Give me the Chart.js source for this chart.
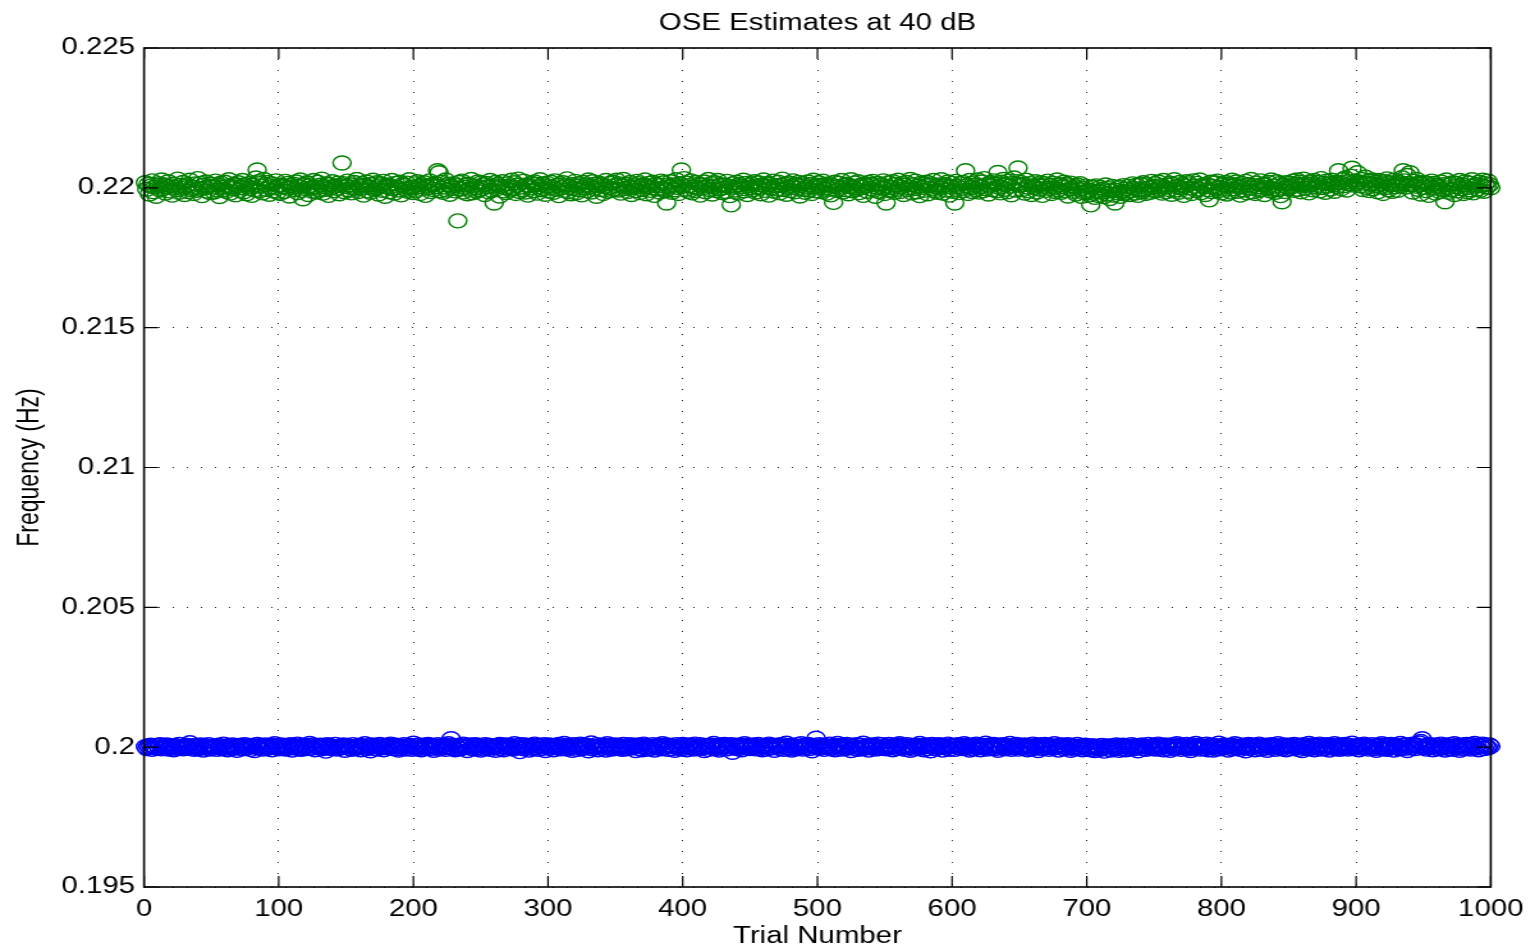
<!DOCTYPE html>
<html>
<head>
<meta charset="utf-8">
<title>OSE Estimates at 40 dB</title>
<script src="https://cdn.jsdelivr.net/npm/chart.js@4"></script>
<style>
  html, body { margin: 0; padding: 0; background: #fff; overflow: hidden; }
  #chart { display: block; }
</style>
</head>
<body>
<!-- drawn narrower and stretched sideways, like the source figure -->
<canvas id="chart" width="1200" height="949" style="width:1535px;height:949px"></canvas>
<script>
// ── data ─────────────────────────────────────────────────────────────────
// Offsets from the nominal frequency, in units of 1e-5 Hz, one per trial.
const DEV_UNIT   = 1e-5;
const GREEN_BASE = 0.22;
const BLUE_BASE  = 0.2;

const GREEN_DEV = [
  18,-5,12,-22,6,25,-14,3,-30,9, 15,-8,28,-3,10,-19,4,22,-11,7, -26,13,1,-7,31,-16,8,-2,19,-24, 5,11,-13,27,-6,2,-20,14,-9,33, -4,16,-28,9,0,21,-12,6,-17,12,
  3,-15,24,-8,10,-31,17,2,-6,20, -12,7,29,-19,4,-3,13,-25,8,18, -9,1,26,-14,11,-21,5,15,-2,-27, 9,-7,35,64,22,-10,6,-18,30,12, -5,19,-23,3,14,-11,0,25,-16,7,
  -20,10,4,-13,23,-1,16,-29,8,2, 13,-6,21,-17,5,28,-9,-39,11,-3, 18,-24,7,0,-12,26,3,-15,20,-8, 9,31,-19,4,-5,14,-27,12,1,22, -10,6,-2,17,-21,8,89,15,-14,5,
  24,-7,11,-18,2,19,-4,30,-13,6, -1,15,-26,9,21,-11,3,-16,12,27, -6,0,18,-22,7,14,-9,23,-30,4, 10,-14,5,26,-3,-19,16,1,-8,20, -25,12,8,-5,17,-12,29,-1,3,-17,
  14,-9,22,5,-20,11,-3,18,-27,7, 1,25,-13,9,-6,16,4,61,54,-10, 20,-16,3,28,-8,12,-23,6,-1,15, -11,8,-118,19,-4,24,-15,2,10,-21, 13,-5,30,-18,7,0,-12,21,-7,17,
  -2,11,-24,16,4,-14,26,-9,8,-54, 19,-3,12,-29,6,22,-11,1,-17,14, 5,-8,27,-1,18,-20,9,31,-13,3, -6,24,-15,10,-26,7,0,16,-10,21, 12,-19,4,29,-7,13,-2,-23,17,6,
  -12,20,2,-16,25,-5,9,-28,14,0, 18,-9,7,32,-14,3,-21,11,-3,23, -18,6,15,-7,-25,19,1,10,-11,28, 4,-15,22,-2,13,-30,8,17,-6,11, -20,5,26,-12,0,16,-9,21,-4,9,
  27,-8,14,-19,6,30,-3,12,-13,2, 19,-24,8,1,-10,23,15,-17,5,-6, 11,28,-21,4,16,-9,0,20,-27,13, -4,7,-15,24,-1,18,-11,-54,9,3, 22,-16,10,-7,29,2,-20,14,64,6,
  33,-5,17,-12,8,25,-18,4,-9,19, -2,13,-26,10,1,21,-14,7,30,-6, 15,-22,3,18,-10,26,-4,11,-17,0, 9,-13,23,6,-28,-61,14,2,-8,20, -19,12,5,-3,27,-11,16,-24,8,1,
  14,-7,22,-15,3,18,-1,-21,10,28, -9,5,16,-26,12,0,24,-12,7,-4, 20,-18,9,31,-6,13,-23,2,17,-10, 6,25,-14,11,-2,19,-29,8,15,-5, -16,3,21,-8,12,-20,27,4,-11,9,
  18,-13,6,24,-4,11,-19,1,15,-25, 8,-52,20,-9,3,16,-2,26,-15,10, -7,13,-21,5,29,-11,0,17,-6,22, -17,9,2,-27,14,7,-12,19,-3,12, 23,-8,-30,4,16,-14,10,-1,25,-20,
  -54,6,18,-10,1,22,-16,12,-5,27, -13,3,15,-24,9,19,-7,0,30,-18, 11,-3,24,-14,6,-28,17,2,-9,13, 20,-21,8,14,-4,26,-11,5,-16,10, -1,29,-19,7,12,-8,21,-26,3,16,
  -12,-54,23,4,-17,14,-2,19,-9,61, 8,-20,26,1,-13,17,10,-6,28,-15, 5,21,-10,33,-3,12,-22,7,18,-7, 25,14,-11,55,2,-18,20,30,-5,11, -14,24,6,-25,16,35,-8,13,71,9,
  19,-6,12,-19,27,3,-11,15,-24,8, 1,22,-15,10,-4,18,-27,6,14,-9, 24,-2,9,-20,16,0,-13,28,-7,11, -16,5,20,-10,13,-29,7,17,-3,-12, 4,-22,10,-6,15,-30,-2,-18,6,-14,
  -8,-25,-61,3,-19,-34,7,-12,-28,1, -15,-6,-31,10,-22,-3,-38,-10,5,-26, -54,-9,-18,2,-30,-13,8,-21,-4,-16, 6,-24,-11,14,-2,-19,9,-27,-7,12, -13,18,-5,-20,11,0,-16,23,-9,4,
  15,-11,21,-3,8,-19,26,2,-14,10, -6,17,-23,12,29,-8,4,-16,19,-1, 11,-27,7,22,-12,14,0,-20,25,6, -9,16,-4,28,-17,9,3,-24,13,-7, -43,20,-13,5,18,-2,24,-10,1,-18,
  12,-5,19,-22,7,14,-15,27,-3,9, 21,-12,2,-26,16,5,-8,23,-18,11, -1,30,-14,8,-20,17,4,-9,25,-6, 13,-24,10,1,19,-11,28,-4,6,-16, 22,-7,15,-28,-50,9,-13,18,3,-2,
  17,4,24,-9,13,28,-5,20,-14,10, 31,-2,15,7,-18,22,12,-7,26,3, 9,19,-11,33,1,16,-16,24,6,14, -4,27,11,-12,20,5,61,18,-3,29, 8,35,-8,22,14,42,70,10,25,16,
  54,21,7,30,-6,17,38,2,24,-10, 13,28,-3,19,9,-14,26,5,15,-20, 22,1,32,-7,18,11,-12,27,4,14, -9,20,8,36,61,25,3,44,16,54, 10,-15,23,6,30,-5,18,-22,12,2,
  19,-10,14,-27,7,24,-2,16,-19,9, 3,-13,21,-6,11,-50,28,0,-16,13, -8,18,-24,5,15,-11,26,-3,10,-20, 22,1,-14,17,-7,29,-18,6,12,-4, 20,-9,8,27,-12,15,3,24,11,0
];

const BLUE_DEV = [
  2,-5,4,-1,7,-8,3,0,-4,6, -2,9,-6,1,5,-3,8,-7,2,-1, 4,-9,6,0,-5,10,-2,3,-6,1, 7,-4,2,16,-3,5,-8,4,0,-6, 3,8,-2,-10,6,1,-4,9,-7,2,
  -3,5,0,-8,7,-1,4,-6,11,-2, 3,-9,6,1,-5,8,-3,2,-11,4, 0,7,-6,3,9,-4,-1,5,-8,6, 2,-12,4,10,-3,0,6,-7,1,8, -5,3,-2,7,-9,4,12,-1,5,-6,
  1,8,-4,3,-7,6,0,-3,9,-10, 5,-2,4,11,-6,2,-8,7,-1,3, -5,6,13,-4,0,8,-9,2,5,-3, 7,-6,1,4,-14,9,-2,6,-5,3, 0,10,-7,2,-4,5,-1,8,-11,4,
  6,-3,2,-8,9,1,-5,4,-2,7, -9,3,0,12,-6,5,-1,-13,8,2, -4,6,-7,3,10,-2,5,-9,1,7, -3,4,11,-5,0,8,-6,2,-10,5, 3,-1,9,-7,4,-4,6,1,-8,14,
  -2,5,-6,8,1,-9,3,7,-4,0, 10,-5,2,6,-11,4,-1,9,-7,3, 5,-3,8,-8,1,12,-2,30,6,-5, -9,4,0,7,-6,3,11,-1,5,-12, 2,8,-4,1,-7,9,-3,6,0,-10,
  4,-6,9,1,-3,7,-8,2,5,-1, -11,6,0,10,-5,3,-9,8,-2,4, 7,-4,1,-7,12,-3,5,0,-16,9, 2,-6,8,-1,4,-10,6,3,-5,11, -2,7,-8,1,5,-4,9,-12,3,0,
  8,-3,5,-9,2,6,-1,10,-6,4, -4,13,1,-7,7,-2,3,-11,9,0, 5,-8,2,11,-5,6,-3,8,1,-13, 4,15,-6,3,-1,9,-9,2,7,-4, 0,6,-10,12,-2,5,-7,3,8,-5,
  1,7,-4,3,-8,10,2,-6,5,-1, 9,-3,0,6,-12,4,8,-5,2,-9, 11,-2,6,-7,3,1,-4,9,-10,5, -1,7,3,-6,12,-3,0,8,-8,4, 6,-5,2,-11,9,1,-2,5,-7,10,
  -3,6,-9,2,8,-1,4,-7,11,0, -5,3,9,-4,1,-12,6,2,-8,5, 7,-2,13,-6,0,4,-10,8,-3,1, 10,-7,2,5,-4,9,-18,3,6,-1, -6,8,1,-9,4,12,-3,0,7,-5,
  5,-2,8,-6,1,10,-4,3,-9,6, 0,-7,4,11,-3,7,-1,-11,5,2, 8,-5,1,9,-8,3,14,-2,6,-4, -10,5,2,-6,9,0,-3,12,-7,4, 7,-1,10,-5,3,-13,6,1,32,-3,
  9,-4,2,7,-8,1,5,-2,11,-6, 3,0,-9,6,13,-3,4,-7,8,1, -5,10,-1,3,-12,6,2,-4,9,-8, 0,7,-6,14,1,-3,5,-10,4,8, -2,6,-7,2,11,-5,0,9,-4,3,
  -6,4,10,-2,1,-9,7,3,-5,8, 12,-3,0,6,-8,2,9,-1,-11,5, 4,-7,7,1,-4,13,-2,6,-9,3, 8,-5,2,-13,10,0,5,-6,3,9, -1,7,-10,4,1,-3,11,-8,6,2,
  3,-8,5,9,-2,6,-5,1,12,-4, 7,0,-10,4,8,-6,2,11,-3,5, -9,1,6,-2,14,-7,3,8,-4,0, 10,-5,4,-11,7,2,-1,9,-6,3, 5,-3,13,-8,1,6,-2,10,-7,4,
  -1,6,-4,8,2,-9,5,0,-6,11, 3,-3,7,-12,1,9,-5,4,10,-2, 6,-8,0,5,-4,12,-1,3,-10,7, 2,8,-6,1,-3,9,4,-11,6,-2, -7,3,10,-4,0,5,-9,2,7,-5,
  -4,2,-9,5,-2,-12,3,-6,1,-8, 6,-3,-14,0,4,-7,2,-10,5,-1, -5,8,-2,-11,3,-6,7,0,-9,4, 1,-4,9,-7,2,6,-3,-13,5,0, 8,-5,3,-8,1,10,-2,4,-6,7,
  2,-7,11,-3,5,0,-9,8,3,-4, 6,-11,1,9,-5,4,12,-2,7,-8, 0,5,-3,10,-6,2,-12,8,1,-4, 13,-1,6,-7,3,9,-5,0,11,-9, 4,-2,7,-10,2,5,-4,14,-6,1,
  -3,8,-1,5,-10,3,7,-6,0,12, -4,2,9,-8,4,-2,6,-13,1,10, -5,3,8,-1,-9,6,2,11,-7,4, 0,-4,7,-11,5,1,9,-3,6,-8, 3,12,-2,5,-6,0,8,-9,4,2,
  7,-5,1,10,-3,4,-8,6,2,-12, 9,-1,5,-6,13,0,-4,8,-9,3, 6,-2,11,-7,1,4,-5,9,0,-10, 7,3,-3,12,-6,5,1,-8,8,-1, -4,10,2,-7,6,-2,14,-5,3,0,
  5,-9,8,1,-4,11,-2,6,-7,3, 0,9,-5,4,-11,7,2,-3,12,-6, 1,8,-8,5,-2,10,3,-10,6,-1, 4,-6,13,0,7,-4,9,-12,2,5, -3,11,6,-5,8,1,15,20,30,-2,
  3,-7,6,10,-1,4,-9,2,8,-4, -6,1,11,-3,5,-10,7,0,-5,9, 2,-8,12,4,-2,6,-11,3,8,-6, 1,10,-4,5,-7,9,0,13,-3,6, -9,4,2,11,-5,7,1,-2,8,3
];

const X_TICKS        = [0, 100, 200, 300, 400, 500, 600, 700, 800, 900, 1000];
const Y_TICKS        = [0.195, 0.2, 0.205, 0.21, 0.215, 0.22, 0.225];
const Y_TICK_LABELS  = ['0.195', '0.2', '0.205', '0.21', '0.215', '0.22', '0.225'];

const TITLE   = 'OSE Estimates at 40 dB';
const X_TITLE = 'Trial Number';
const Y_TITLE = 'Frequency (Hz)';

// ── styling ─────────────────────────────────────────────────────────────
const GREEN    = '#008000';
const BLUE     = '#0000ff';
const FONT     = { family: "'Liberation Sans', Arial, Helvetica, sans-serif", size: 23 };
const TICK_LEN = 11;

Chart.defaults.font.family = FONT.family;
Chart.defaults.color = '#000';

const toPoints = (dev, base) => dev.map((d, i) => ({ x: i + 1, y: base + d * DEV_UNIT }));

// axes box and inward tick marks, drawn on top of the markers
const axesBox = {
  id: 'axesBox',
  afterDatasetsDraw(chart) {
    const { ctx, chartArea: a, scales: { x, y } } = chart;
    ctx.save();
    ctx.strokeStyle = '#000';
    ctx.lineWidth = 1.2;
    ctx.beginPath();
    X_TICKS.forEach(v => {
      const px = x.getPixelForValue(v);
      ctx.moveTo(px, a.bottom); ctx.lineTo(px, a.bottom - TICK_LEN);
      ctx.moveTo(px, a.top);    ctx.lineTo(px, a.top + TICK_LEN);
    });
    Y_TICKS.forEach(v => {
      const py = y.getPixelForValue(v);
      ctx.moveTo(a.left, py);  ctx.lineTo(a.left + TICK_LEN, py);
      ctx.moveTo(a.right, py); ctx.lineTo(a.right - TICK_LEN, py);
    });
    ctx.stroke();
    ctx.lineWidth = 1.6;
    ctx.strokeRect(a.left, a.top, a.right - a.left, a.bottom - a.top);
    ctx.restore();
  }
};

const gridOpts   = { color: 'rgba(0,0,0,0.85)', lineWidth: 1, drawTicks: false };
const borderOpts = { display: false, dash: [1, 10] };

new Chart(document.getElementById('chart'), {
  type: 'scatter',
  data: {
    datasets: [
      {
        label: 'f1',
        data: toPoints(BLUE_DEV, BLUE_BASE),
        borderColor: BLUE, backgroundColor: 'rgba(0,0,0,0)',
        pointStyle: 'circle', pointRadius: 7, borderWidth: 1.4, clip: false
      },
      {
        label: 'f2',
        data: toPoints(GREEN_DEV, GREEN_BASE),
        borderColor: GREEN, backgroundColor: 'rgba(0,0,0,0)',
        pointStyle: 'circle', pointRadius: 7, borderWidth: 1.4, clip: false
      }
    ]
  },
  options: {
    responsive: false,
    animation: false,
    devicePixelRatio: 1,
    layout: { padding: { left: 0, right: 29.7, top: 0, bottom: 0 } },
    plugins: {
      legend:  { display: false },
      tooltip: { enabled: false },
      title: {
        display: true, text: TITLE, color: '#000', fullSize: false,
        font: { ...FONT, weight: 'normal' },
        padding: { top: 9.7, bottom: 10.7 }
      }
    },
    scales: {
      x: {
        type: 'linear', min: 0, max: 1000,
        afterBuildTicks: s => { s.ticks = X_TICKS.map(v => ({ value: v })); },
        afterFit: s => { s.height = 62; },
        ticks: { font: FONT, padding: 9, maxRotation: 0, autoSkip: false, callback: v => String(v) },
        grid: gridOpts, border: borderOpts,
        title: { display: true, text: X_TITLE, font: FONT, padding: { top: 0, bottom: -1 } }
      },
      y: {
        type: 'linear', min: 0.195, max: 0.225,
        afterBuildTicks: s => { s.ticks = Y_TICKS.map(v => ({ value: v })); },
        afterFit: s => { s.width = 112.6; },
        ticks: { font: FONT, padding: 7, autoSkip: false, callback: (v, i) => Y_TICK_LABELS[i] },
        grid: gridOpts, border: borderOpts,
        title: { display: true, text: Y_TITLE, font: FONT, padding: { top: 9.6, bottom: 0 } }
      }
    }
  },
  plugins: [axesBox]
});
</script>
</body>
</html>
